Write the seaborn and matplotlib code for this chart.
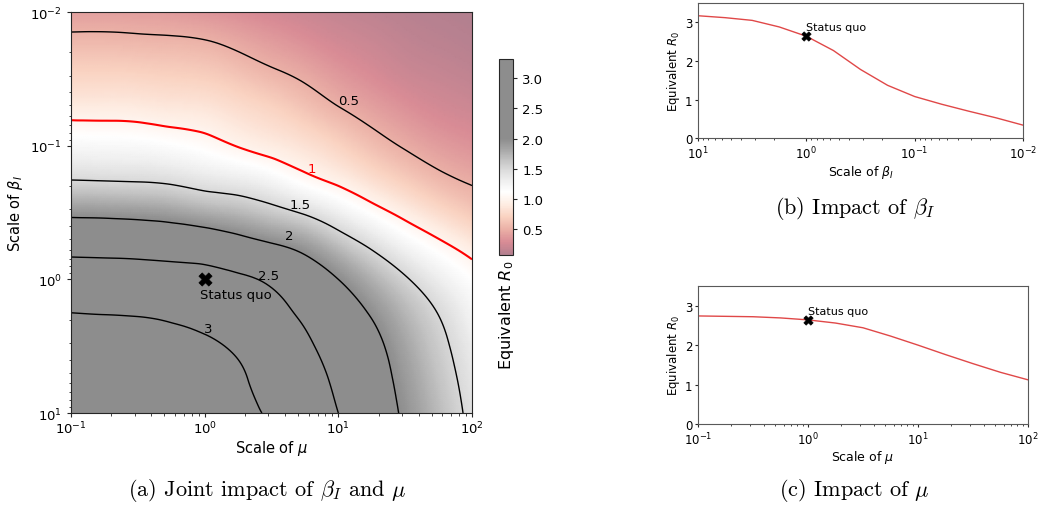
import numpy as np
import pandas as pd
import matplotlib
matplotlib.use("Agg")
import matplotlib.pyplot as plt
import matplotlib.tri as mtri
import seaborn as sns
from matplotlib.colors import ListedColormap, Normalize

# log10 of the scale factors on the grid
mu_exp = [-1.0, -0.75, -0.5, -0.25, 0.0, 0.25, 0.5, 0.75, 1.0, 1.25, 1.5, 1.75, 2.0]
beta_exp = [-2.0, -1.75, -1.5, -1.25, -1.0, -0.75, -0.5, -0.25, 0.0, 0.25, 0.5, 0.75, 1.0]

# Equivalent R0, one list per mu scale, ordered along beta_exp
r0_mu_m1p00 = [0.41, 0.57, 0.75, 0.94, 1.20, 1.49, 1.93, 2.37, 2.74, 3.00, 3.14, 3.25, 3.32]
r0_mu_m0p75 = [0.41, 0.57, 0.75, 0.94, 1.19, 1.48, 1.92, 2.36, 2.73, 2.99, 3.13, 3.24, 3.31]
r0_mu_m0p50 = [0.40, 0.56, 0.74, 0.93, 1.18, 1.47, 1.90, 2.34, 2.72, 2.98, 3.12, 3.22, 3.29]
r0_mu_m0p25 = [0.38, 0.55, 0.72, 0.90, 1.14, 1.44, 1.86, 2.31, 2.69, 2.95, 3.09, 3.18, 3.24]
r0_mu_p0p00 = [0.34, 0.53, 0.70, 0.88, 1.08, 1.37, 1.78, 2.27, 2.64, 2.88, 3.05, 3.12, 3.17]
r0_mu_p0p25 = [0.30, 0.47, 0.64, 0.81, 0.99, 1.31, 1.71, 2.16, 2.56, 2.77, 2.95, 3.04, 3.08]
r0_mu_p0p50 = [0.25, 0.40, 0.56, 0.74, 0.91, 1.21, 1.60, 2.04, 2.44, 2.62, 2.78, 2.87, 2.95]
r0_mu_p0p75 = [0.21, 0.33, 0.48, 0.64, 0.83, 1.06, 1.47, 1.90, 2.23, 2.43, 2.57, 2.66, 2.71]
r0_mu_p1p00 = [0.17, 0.26, 0.38, 0.53, 0.72, 0.94, 1.29, 1.68, 2.00, 2.20, 2.33, 2.43, 2.50]
r0_mu_p1p25 = [0.14, 0.21, 0.30, 0.43, 0.59, 0.80, 1.10, 1.46, 1.76, 1.97, 2.10, 2.17, 2.22]
r0_mu_p1p50 = [0.11, 0.16, 0.23, 0.34, 0.48, 0.67, 0.93, 1.24, 1.53, 1.72, 1.83, 1.90, 1.95]
r0_mu_p1p75 = [0.09, 0.13, 0.19, 0.27, 0.39, 0.55, 0.78, 1.06, 1.31, 1.49, 1.58, 1.64, 1.69]
r0_mu_p2p00 = [0.07, 0.105, 0.156, 0.23, 0.33, 0.47, 0.65, 0.90, 1.12, 1.24, 1.33, 1.39, 1.43]

contour_levels = [0.5, 1.0, 1.5, 2.0, 2.5, 3.0]
# where each contour's value is written (mu scale, beta scale)
contour_label_mu = [11.9, 6.3, 5.2, 4.3, 3.0, 1.06]
contour_label_beta = [0.046, 0.148, 0.277, 0.466, 0.93, 2.32]
colorbar_ticks = [0.5, 1.0, 1.5, 2.0, 2.5, 3.0]
status_quo_label = "Status quo"

# ---------------------------------------------------------------- style
sns.set_theme(style="ticks", rc={
    "axes.edgecolor": ".15",
    "axes.linewidth": 0.8,
    "text.color": "black",
    "axes.labelcolor": "black",
    "xtick.color": ".15",
    "ytick.color": ".15",
    "xtick.labelcolor": "black",
    "ytick.labelcolor": "black",
    "xtick.major.size": 3.0,
    "ytick.major.size": 3.0,
    "xtick.minor.size": 1.8,
    "ytick.minor.size": 1.8,
    "xtick.major.width": 0.8,
    "ytick.major.width": 0.8,
    "xtick.minor.width": 0.6,
    "ytick.minor.width": 0.6,
    "xtick.major.pad": 2.0,
    "xtick.minor.pad": 2.0,
})
plt.rcParams["font.family"] = ["DejaVu Sans"]

mu_scale = 10.0 ** np.array(mu_exp)
beta_scale = 10.0 ** np.array(beta_exp)
R0 = np.column_stack([
    r0_mu_m1p00, r0_mu_m0p75, r0_mu_m0p50, r0_mu_m0p25, r0_mu_p0p00,
    r0_mu_p0p25, r0_mu_p0p50, r0_mu_p0p75, r0_mu_p1p00, r0_mu_p1p25,
    r0_mu_p1p50, r0_mu_p1p75, r0_mu_p2p00,
])  # rows: beta, columns: mu

# Diverging red/grey map: white just above R0 = 1, full grey from R0 = 2 on,
# drawn at half opacity over a white background
vmin, vmax = float(R0.min()), float(R0.max())
white_at, grey_at = 1.12, 2.0
vals = np.linspace(vmin, vmax, 512)
pos = np.interp(vals, [vmin, white_at, grey_at, vmax], [0.0, 0.5, 1.0, 1.0])
base = plt.get_cmap("RdGy")(pos)[:, :3]
cmap = ListedColormap(0.5 * base + 0.5)
norm = Normalize(vmin=vmin, vmax=vmax)

# Smooth cubic surface through the grid (built in log space)
n_b, n_m = len(beta_exp), len(mu_exp)
triangles = []
for ib in range(n_b - 1):
    for im in range(n_m - 1):
        a = ib * n_m + im
        b, c = a + 1, a + n_m
        d = c + 1
        triangles += [[a, b, d], [a, d, c]]
LX, LY = np.meshgrid(mu_exp, beta_exp)
tri_log = mtri.Triangulation(LX.ravel(), LY.ravel(), triangles=np.array(triangles))
cubic = mtri.CubicTriInterpolator(tri_log, R0.ravel(), kind="min_E")
eps = 1e-7
fx = np.linspace(mu_exp[0] + eps, mu_exp[-1] - eps, 181)
fy = np.linspace(beta_exp[0] + eps, beta_exp[-1] - eps, 181)
FX, FY = np.meshgrid(fx, fy)
surface = np.ma.filled(cubic(FX, FY), np.nan)

fig = plt.figure(figsize=(10.39, 5.10), dpi=100)

# ---------------------------------------------------------------- (a) joint map
ax = fig.add_axes([0.0683, 0.1882, 0.386, 0.7863])
mesh = ax.pcolormesh(10.0 ** fx, 10.0 ** fy, surface, cmap=cmap, norm=norm,
                     shading="gouraud")
ax.set_xscale("log")
ax.set_yscale("log")
ax.set_xlim(0.1, 100)
ax.set_ylim(10, 0.01)

line_colors = ["red" if lv == 1.0 else "black" for lv in contour_levels]
line_widths = [1.5 if lv == 1.0 else 1.0 for lv in contour_levels]
cs = ax.contour(10.0 ** fx, 10.0 ** fy, surface, levels=contour_levels,
                colors=line_colors, linewidths=line_widths)
spots = list(zip(contour_label_mu, contour_label_beta))
labels = ax.clabel(cs, fmt=lambda v: f"{v:g}", fontsize=9.5, inline=False,
                   manual=spots)
# write the level values upright, just beside their lines
for txt in labels:
    i = contour_levels.index(float(txt.get_text()))
    txt.set_rotation(0)
    txt.set_position((contour_label_mu[i], contour_label_beta[i]))

sq_mu, sq_beta = 1.0, 1.0
sns.scatterplot(x=[sq_mu], y=[sq_beta], marker="X", color="black", s=90,
                edgecolor="black", linewidth=0.5, ax=ax, zorder=5, legend=False)
ax.text(0.93, 1.17, status_quo_label, ha="left", va="top", fontsize=9.5)

ax.set_xlabel(r"Scale of $\mu$", fontsize=10.5, labelpad=1)
ax.set_ylabel(r"Scale of $\beta_I$", fontsize=10.5, labelpad=4)
ax.tick_params(which="both", labelsize=9.5)

cax = fig.add_axes([0.4803, 0.498, 0.0135, 0.3843])
cb = fig.colorbar(mesh, cax=cax, ticks=colorbar_ticks, format="%.1f")
cb.outline.set_linewidth(0.8)
cb.ax.tick_params(labelsize=9.5, size=3.0)
cb.ax.set_xlabel(r"Equivalent $R_0$", rotation=90, fontsize=11.5, labelpad=3)

# ---------------------------------------------------------------- side panels
side_color = "#e04848"
sq_r0 = float(R0[beta_exp.index(0.0), mu_exp.index(0.0)])

axb = fig.add_axes([0.6718, 0.7269, 0.3128, 0.2653])
df_b = pd.DataFrame({"beta": beta_scale, "R0": R0[:, mu_exp.index(0.0)]})
sns.lineplot(data=df_b, x="beta", y="R0", color=side_color, lw=1.0, ax=axb)
axb.set_xscale("log")
axb.set_xlim(10, 0.01)

axc = fig.add_axes([0.6718, 0.1667, 0.3176, 0.2706])
df_c = pd.DataFrame({"mu": mu_scale, "R0": R0[beta_exp.index(0.0), :]})
sns.lineplot(data=df_c, x="mu", y="R0", color=side_color, lw=1.0, ax=axc)
axc.set_xscale("log")
axc.set_xlim(0.1, 100)

for a, xl in ((axb, r"Scale of $\beta_I$"), (axc, r"Scale of $\mu$")):
    a.set_ylim(0, 3.5)
    a.set_yticks([0, 1, 2, 3])
    sns.scatterplot(x=[1.0], y=[sq_r0], marker="X", color="black", s=45,
                    edgecolor="black", linewidth=0.5, ax=a, zorder=5, legend=False)
    a.text(1.0, sq_r0 + 0.1, status_quo_label, ha="left", va="bottom", fontsize=8)
    a.set_xlabel(xl, fontsize=9, labelpad=1)
    a.set_ylabel(r"Equivalent $R_0$", fontsize=8.5, labelpad=2)
    a.tick_params(axis="x", which="both", pad=2.5)
    a.tick_params(axis="y", which="both", pad=2.0)
    a.tick_params(which="major", size=2.0, labelsize=8.5)
    a.tick_params(which="minor", size=1.2)
    for sp in a.spines.values():
        sp.set_color("0.35")
        sp.set_linewidth(0.8)

# ---------------------------------------------------------------- captions
cap_kw = dict(ha="center", va="center", fontsize=16, family="cmr10",
              math_fontfamily="cm")
fig.text(267 / 1039, 1 - 491 / 510, r"(a) Joint impact of $\beta_I$ and $\mu$", **cap_kw)
fig.text(855 / 1039, 1 - 209 / 510, r"(b) Impact of $\beta_I$", **cap_kw)
fig.text(854 / 1039, 1 - 491 / 510, r"(c) Impact of $\mu$", **cap_kw)

fig.savefig("out.png", dpi=100)
